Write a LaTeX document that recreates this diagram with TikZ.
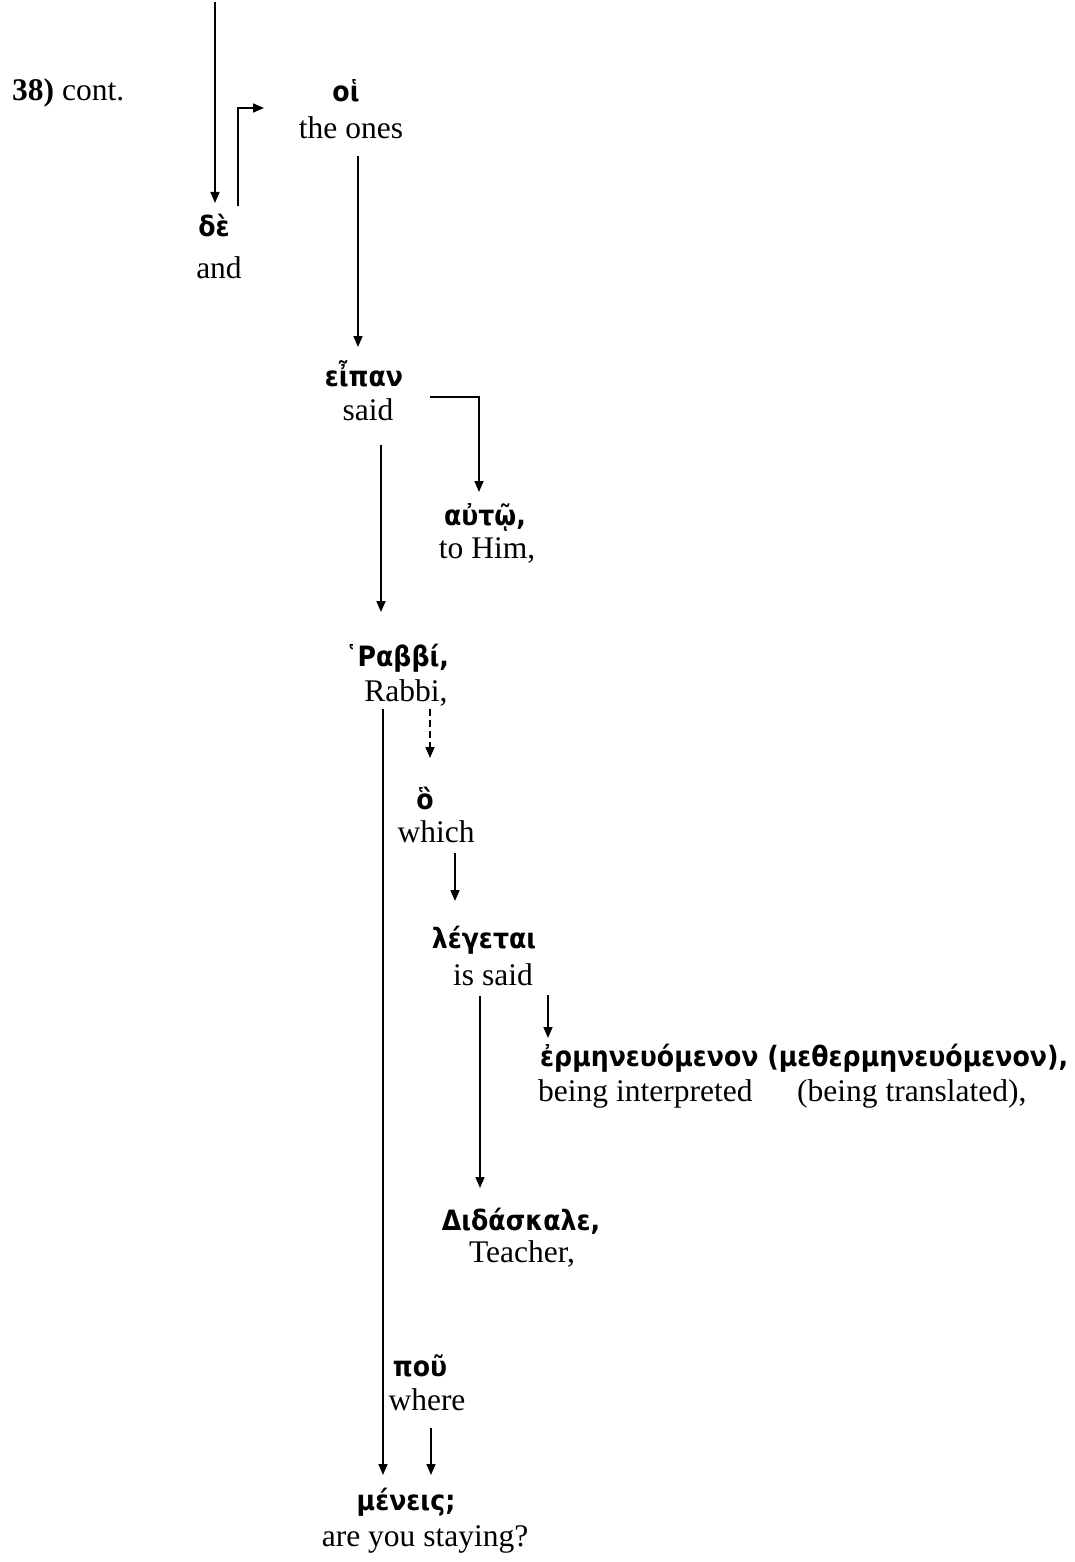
\documentclass[tikz,border=0pt]{standalone}
\usepackage{fontspec}
\setmainfont{Liberation Serif}
\newfontfamily\gkfont[FakeStretch=0.9]{DejaVu Sans}
\usetikzlibrary{arrows.meta}
\tikzset{
  gk/.style={font=\gkfont\bfseries\fontsize{28}{31}\selectfont, inner sep=0pt},
  en/.style={font=\fontsize{31.5}{36}\selectfont, inner sep=0pt},
  conn/.style={line width=1.6pt, -{Triangle[length=11pt,width=9pt]}},
}
\begin{document}
\begin{tikzpicture}[x=1pt,y=-1pt]
\useasboundingbox (0,0) rectangle (1075,1562);
% labels
\node[en, anchor=base west] (t38) at (12,101) {\textbf{38)} cont.};
\node[gk] (gde) at (214,226) {δὲ};
\node[en] (ede) at (219,268) {and};
\node[gk] (ghoi) at (346,91) {οἱ};
\node[en] (ehoi) at (351,128) {the ones};
\node[gk] (geipan) at (364,374) {εἶπαν};
\node[en] (eeipan) at (368,410) {said};
\node[gk] (gauto) at (485,517) {αὐτῷ,};
\node[en] (eauto) at (487,550) {to Him,};
\node[gk] (grabbi) at (397,658) {῾Ραββί,};
\node[en] (erabbi) at (406,693) {Rabbi,};
\node[gk] (gho) at (425,798) {ὃ};
\node[en] (eho) at (436,832) {which};
\node[gk] (gleg) at (484,940) {λέγεται};
\node[en] (eleg) at (493,975) {is said};
\node[gk, anchor=west] (gherm) at (540,1058) {ἐρμηνευόμενον (μεθερμηνευόμενον),};
\node[en, anchor=west] (eherm1) at (538,1094) {being interpreted};
\node[en, anchor=west] (eherm2) at (797,1094) {(being translated),};
\node[gk] (gdid) at (521,1221) {Διδάσκαλε,};
\node[en] (edid) at (522,1254) {Teacher,};
\node[gk] (gpou) at (420,1366) {ποῦ};
\node[en] (epou) at (427,1400) {where};
\node[gk] (gmen) at (406,1502) {μένεις;};
\node[en] (emen) at (425,1539) {are you staying?};
% connector end points
\coordinate (c0) at (215,2);
\coordinate (c1) at (215,203);
\coordinate (c2a) at (238,206);
\coordinate (c2b) at (238,108);
\coordinate (c2c) at (264,108);
\coordinate (c3a) at (358,156);
\coordinate (c3b) at (358,347);
\coordinate (c4a) at (430,397);
\coordinate (c4b) at (479,397);
\coordinate (c4c) at (479,492);
\coordinate (c5a) at (381,445);
\coordinate (c5b) at (381,612);
\coordinate (c6a) at (430,709);
\coordinate (c6b) at (430,758);
\coordinate (c7a) at (455,853);
\coordinate (c7b) at (455,901);
\coordinate (c8a) at (548,995);
\coordinate (c8b) at (548,1038);
\coordinate (c9a) at (480,996);
\coordinate (c9b) at (480,1188);
\coordinate (c10a) at (383,709);
\coordinate (c10b) at (383,1475);
\coordinate (c11a) at (431,1428);
\coordinate (c11b) at (431,1475);
% connectors
\draw[conn] (c0) -- (c1);
\draw[conn] (c2a) -- (c2b) -- (c2c);
\draw[conn] (c3a) -- (c3b);
\draw[conn] (c4a) -- (c4b) -- (c4c);
\draw[conn] (c5a) -- (c5b);
\draw[conn, dash pattern=on 7pt off 4pt] (c6a) -- (c6b);
\draw[conn] (c7a) -- (c7b);
\draw[conn] (c8a) -- (c8b);
\draw[conn] (c9a) -- (c9b);
\draw[conn] (c10a) -- (c10b);
\draw[conn] (c11a) -- (c11b);
\end{tikzpicture}
\end{document}
